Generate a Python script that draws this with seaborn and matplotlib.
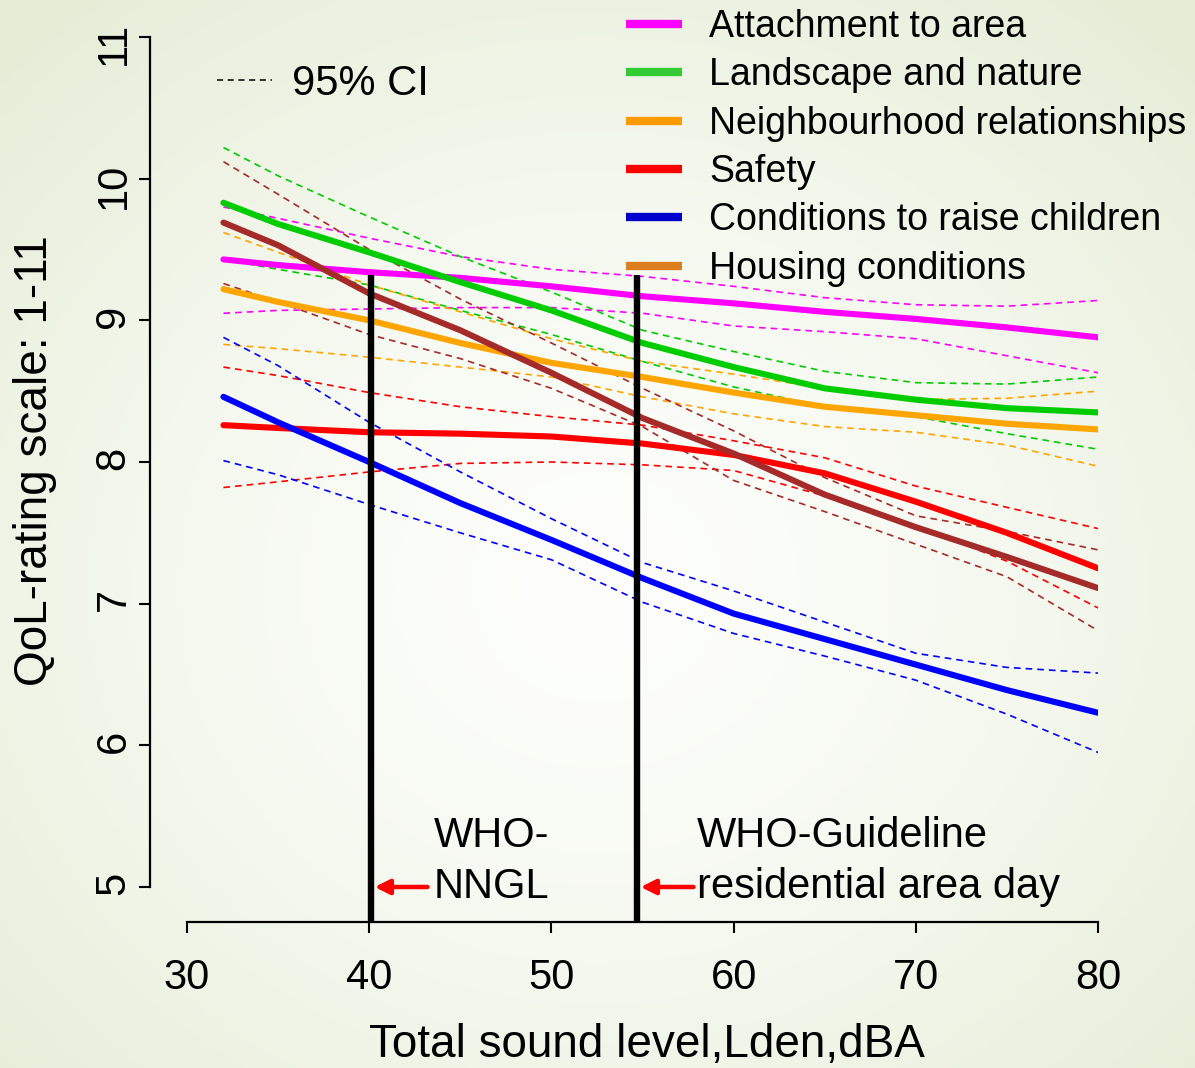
import numpy as np
import pandas as pd
import matplotlib
matplotlib.use("Agg")
import matplotlib.pyplot as plt
from matplotlib.lines import Line2D
import seaborn as sns

# ---------------- data ----------------
sound_level = [32, 35, 40, 45, 50, 55, 60, 65, 70, 75, 80]

domains = ["Attachment to area", "Landscape and nature", "Neighbourhood relationships",
           "Safety", "Conditions to raise children", "Housing conditions"]

attach    = [9.43, 9.39, 9.34, 9.30, 9.24, 9.17, 9.12, 9.06, 9.01, 8.95, 8.88]
attach_hi = [9.80, 9.72, 9.58, 9.45, 9.36, 9.31, 9.24, 9.16, 9.11, 9.10, 9.14]
attach_lo = [9.05, 9.07, 9.08, 9.09, 9.09, 9.05, 8.96, 8.92, 8.87, 8.75, 8.63]

land      = [9.83, 9.68, 9.48, 9.27, 9.07, 8.84, 8.67, 8.52, 8.44, 8.38, 8.35]
land_hi   = [10.22, 10.02, 9.73, 9.45, 9.20, 8.93, 8.78, 8.64, 8.56, 8.55, 8.60]
land_lo   = [9.43, 9.36, 9.25, 9.07, 8.90, 8.71, 8.53, 8.39, 8.32, 8.20, 8.09]

neigh     = [9.22, 9.13, 9.00, 8.84, 8.70, 8.60, 8.49, 8.39, 8.33, 8.27, 8.23]
neigh_hi  = [9.62, 9.48, 9.25, 9.06, 8.87, 8.71, 8.62, 8.52, 8.44, 8.45, 8.50]
neigh_lo  = [8.83, 8.80, 8.74, 8.67, 8.60, 8.46, 8.34, 8.25, 8.21, 8.12, 7.97]

safety    = [8.26, 8.24, 8.21, 8.20, 8.18, 8.13, 8.05, 7.92, 7.72, 7.50, 7.25]
safety_hi = [8.67, 8.61, 8.49, 8.39, 8.32, 8.26, 8.15, 8.03, 7.83, 7.68, 7.53]
safety_lo = [7.82, 7.86, 7.93, 7.99, 8.00, 7.98, 7.94, 7.76, 7.55, 7.30, 6.97]

children  = [8.46, 8.28, 8.00, 7.71, 7.45, 7.18, 6.93, 6.75, 6.57, 6.39, 6.23]
child_hi  = [8.88, 8.68, 8.28, 7.93, 7.60, 7.29, 7.09, 6.87, 6.65, 6.55, 6.51]
child_lo  = [8.01, 7.91, 7.70, 7.50, 7.31, 7.01, 6.79, 6.63, 6.46, 6.22, 5.95]

housing   = [9.69, 9.53, 9.19, 8.93, 8.63, 8.31, 8.06, 7.77, 7.54, 7.33, 7.11]
house_hi  = [10.12, 9.89, 9.50, 9.15, 8.84, 8.52, 8.22, 7.89, 7.62, 7.51, 7.38]
house_lo  = [9.26, 9.13, 8.90, 8.73, 8.52, 8.25, 7.87, 7.65, 7.42, 7.19, 6.81]

means = [attach, land, neigh, safety, children, housing]
highs = [attach_hi, land_hi, neigh_hi, safety_hi, child_hi, house_hi]
lows  = [attach_lo, land_lo, neigh_lo, safety_lo, child_lo, house_lo]

line_colors   = ["#ff00ff", "#00cc00", "#ffa500", "#ff0000", "#0000ff", "#a52a2a"]
legend_colors = ["#ff00ff", "#33cc33", "#ff9900", "#ff0000", "#0000cc", "#dd7f1f"]

guideline_x = [40.1, 54.7]
guideline_top = 9.32
guide_text_1 = ["WHO-", "NNGL"]
guide_text_2 = ["WHO-Guideline", "residential area day"]

x_ticks = [30, 40, 50, 60, 70, 80]
y_ticks = [5, 6, 7, 8, 9, 10, 11]

# ---------------- tables ----------------
mean_df = pd.DataFrame({
    "level": np.tile(sound_level, len(domains)),
    "domain": np.repeat(domains, len(sound_level)),
    "value": np.concatenate(means),
})
ci_df = pd.concat([
    pd.DataFrame({"level": np.tile(sound_level, len(domains)),
                  "domain": np.repeat(domains, len(sound_level)),
                  "bound": b,
                  "value": np.concatenate(v)})
    for b, v in (("hi", highs), ("lo", lows))
], ignore_index=True)

# ---------------- style ----------------
sns.set_style("ticks")
plt.rcParams["font.family"] = ["Liberation Sans", "DejaVu Sans"]
plt.rcParams["text.color"] = "black"
plt.rcParams["axes.labelcolor"] = "black"
plt.rcParams["xtick.color"] = "black"
plt.rcParams["ytick.color"] = "black"

W, H = 1195, 1068
fig = plt.figure(figsize=(W / 100, H / 100), dpi=100)

# background gradient
bg = fig.add_axes([0, 0, 1, 1])
yy, xx = np.mgrid[0:1:300j, 0:1:340j]
r = np.sqrt(((xx - 0.5) / 0.5) ** 2 + ((yy - 0.55) / 0.5) ** 2) / np.sqrt(2)
t = np.clip(r, 0, 1) ** 1.5
c0 = np.array([253, 254, 251]) / 255
c1 = np.array([229, 237, 215]) / 255
img = (1 - t)[..., None] * c0 + t[..., None] * c1
bg.imshow(img, aspect="auto", extent=[0, 1, 0, 1], origin="upper")
bg.axis("off")

ax = fig.add_axes([187 / W, 1 - 887 / H, (1098 - 187) / W, (887 - 37) / H])
ax.set_zorder(2)
ax.patch.set_alpha(0)

pal = dict(zip(domains, line_colors))
sns.lineplot(data=ci_df, x="level", y="value", hue="domain", style="bound",
             palette=pal, dashes={"hi": (4, 3), "lo": (4, 3)}, linewidth=1.2,
             estimator=None, legend=False, ax=ax, zorder=2)
sns.lineplot(data=mean_df, x="level", y="value", hue="domain", palette=pal,
             linewidth=4.4, estimator=None, legend=False, ax=ax, zorder=3)

ax.set_xlim(30, 80)
ax.set_ylim(5, 11)
ax.set_xticks(x_ticks)
ax.set_yticks(y_ticks)
for s in ("top", "right"):
    ax.spines[s].set_visible(False)
ax.spines["left"].set_position(("outward", 26.6))
ax.spines["bottom"].set_position(("outward", 25.2))
ax.spines["left"].set_bounds(5, 11)
ax.spines["bottom"].set_bounds(30, 80)
for s in ("left", "bottom"):
    ax.spines[s].set_linewidth(1.6)
    ax.spines[s].set_color("black")
ax.tick_params(axis="both", length=8, width=1.5, color="black", labelsize=30,
               labelcolor="black")
ax.tick_params(axis="x", pad=18)
ax.tick_params(axis="y", pad=4, labelrotation=90)
ax.grid(False)

ax.set_xlabel("Total sound level,Lden,dBA", fontsize=33, va="center", color="black")
ax.xaxis.set_label_coords(0.505, -0.186)
ax.set_ylabel("QoL-rating scale: 1-11", fontsize=33, va="center", rotation=90,
              color="black")
ax.yaxis.set_label_coords(-0.167, 0.502)

# guideline verticals
y_bottom = 5 - 35 / 141.7
for gx in guideline_x:
    ax.plot([gx, gx], [y_bottom, guideline_top], color="black", lw=4.6,
            clip_on=False, zorder=5, solid_capstyle="butt")
    ax.annotate("", xy=(gx + 0.2, 5.0), xytext=(gx + 3.1, 5.0),
                arrowprops=dict(arrowstyle="-|>", color="red", lw=3.2,
                                mutation_scale=22, shrinkA=0, shrinkB=0),
                zorder=5, annotation_clip=False)

ax.text(43.55, 5.36, guide_text_1[0], fontsize=30, va="center", ha="left", color="black")
ax.text(43.55, 5.00, guide_text_1[1], fontsize=30, va="center", ha="left", color="black")
ax.text(58.0, 5.36, guide_text_2[0], fontsize=30, va="center", ha="left", color="black")
ax.text(58.0, 5.00, guide_text_2[1], fontsize=30, va="center", ha="left", color="black")

# legends
handles = [Line2D([0], [0], color=c, lw=6, solid_capstyle="butt") for c in legend_colors]
leg = ax.legend(handles, domains, loc="upper left",
                bbox_to_anchor=(626 / W, 1 - 9 / H), bbox_transform=fig.transFigure,
                frameon=False, fontsize=27, handlelength=1.5, handletextpad=0.72,
                labelspacing=0.33, borderpad=0, borderaxespad=0, labelcolor="black")
ax.add_artist(leg)
ci_handle = [Line2D([0], [0], color="black", lw=1.1, linestyle=(0, (4, 3)))]
ax.legend(ci_handle, ["95% CI"], loc="upper left",
          bbox_to_anchor=(217 / W, 1 - 64 / H), bbox_transform=fig.transFigure,
          frameon=False, fontsize=30, handlelength=1.33, handletextpad=0.48,
          borderpad=0, borderaxespad=0, labelcolor="black")

fig.savefig("out.png", dpi=100)
